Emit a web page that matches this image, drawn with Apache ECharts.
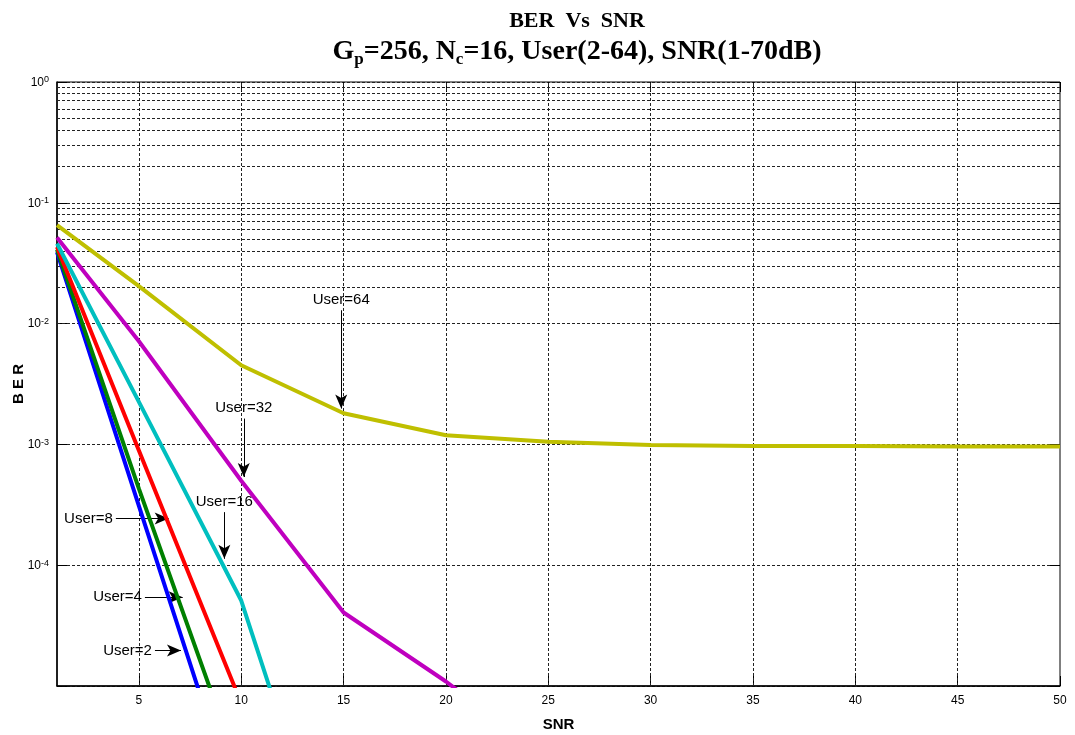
<!DOCTYPE html>
<html>
<head>
<meta charset="utf-8">
<script src="https://cdn.jsdelivr.net/npm/echarts@6/dist/echarts.min.js"></script>
<style>html,body{margin:0;padding:0;background:#fff;}#c{width:1075px;height:735px;}</style>
</head>
<body>
<div id="c"></div>
<script>
// ---- data ----
const snr = [1, 5, 10, 15, 20, 25, 30, 35, 40, 45, 50];
const ber_user2  = [0.039, 3.1e-4, 7.6e-7];
const ber_user4  = [0.041, 4.3e-4, 1.8e-6];
const ber_user8  = [0.043, 8.9e-4, 7.2e-6];
const ber_user16 = [0.046, 2.25e-3, 5.1e-5, 1.3e-7];
const ber_user32 = [0.0516, 7.15e-3, 5.0e-4, 4.06e-5, 1.09e-5, 2.5e-6];
const ber_user64 = [0.0653, 0.0204, 0.00452, 0.00181, 0.00119, 0.00105, 0.00099, 0.00097, 0.00097, 0.00096, 0.00096];
const xTicks = [5, 10, 15, 20, 25, 30, 35, 40, 45, 50];
const minorMult = [2, 3, 4, 5, 6, 7, 8, 9];
const decades = [-5, -4, -3, -2, -1];
// annotations: [label, x1, y1, x2, y2]
const notes = [
  ['User=64', 14.885, 0.0129, 14.885, 0.00198],
  ['User=32', 10.124, 0.001636, 10.124, 5.37e-4],
  ['User=16', 9.175, 2.75e-4, 9.175, 1.13e-4],
  ['User=8', 3.877, 2.43e-4, 6.455, 2.43e-4],
  ['User=4', 5.295, 5.44e-5, 7.140, 5.44e-5],
  ['User=2', 5.785, 1.97e-5, 7.057, 1.97e-5]
];

const SANS = '"Liberation Sans", Arial, Helvetica, sans-serif';
const SERIF = '"Liberation Serif", "Times New Roman", serif';
const pair = (ys) => ys.map((v, i) => [snr[i], v]);

const gridY = [];
decades.forEach(d => minorMult.forEach(m => gridY.push({yAxis: m * Math.pow(10, d)})));
const gridX = xTicks.slice(0, -1).map(v => ({xAxis: v}));

const dashStyle = {color: '#222', width: 1, type: [3, 2]};

function mk(name, ys, color) {
  return {
    name, type: 'line', data: pair(ys), showSymbol: false, symbol: 'none', z: 10,
    lineStyle: {color, width: 4}, itemStyle: {color}, clip: true, animation: false
  };
}

const chart = echarts.init(document.getElementById('c'), null, {renderer: 'canvas'});
chart.setOption({
  animation: false,
  backgroundColor: '#fff',
  title: {
    left: 572, top: 1, textAlign: 'center',
    text: '{a|BER  Vs  SNR}\n{c|G}{s|p}{c|=256, N}{s|c}{c|=16, User(2-64), SNR(1-70dB)}',
    textStyle: {
      rich: {
        a: {fontFamily: SERIF, fontWeight: 'bold', fontSize: 22, color: '#000', lineHeight: 30},
        c: {fontFamily: SERIF, fontWeight: 'bold', fontSize: 28, color: '#000', lineHeight: 32},
        s: {fontFamily: SERIF, fontWeight: 'bold', fontSize: 17, color: '#000', lineHeight: 17, padding: [10, 0, 0, 0], verticalAlign: 'bottom'}
      }
    }
  },
  grid: {left: 57, right: 15, top: 82, bottom: 49, show: true, borderColor: '#000', borderWidth: 1, backgroundColor: '#fff', outerBoundsMode: 'none', containLabel: false},
  xAxis: [{
    type: 'value', min: 1, max: 50, position: 'bottom',
    name: 'SNR', nameLocation: 'middle', nameGap: 31, nameMoveOverlap: false,
    nameTextStyle: {fontFamily: SANS, fontWeight: 'bold', fontSize: 15, color: '#000'},
    axisLine: {show: true, onZero: false, lineStyle: {color: '#000', width: 1.5}},
    axisTick: {show: true, inside: true, length: 10, customValues: xTicks, lineStyle: {color: '#000'}},
    axisLabel: {show: true, customValues: xTicks, margin: 9, fontFamily: SANS, fontSize: 12, color: '#000'},
    splitLine: {show: false}
  }, {
    type: 'value', min: 1, max: 50, position: 'top',
    axisLine: {show: false},
    axisTick: {show: true, inside: true, length: 10, customValues: xTicks, lineStyle: {color: '#000'}},
    axisLabel: {show: false}, splitLine: {show: false}
  }],
  yAxis: [{
    type: 'log', logBase: 10, min: 1e-5, max: 1, position: 'left',
    name: 'B E R', nameLocation: 'middle', nameGap: 31, nameRotate: 90, nameMoveOverlap: false,
    nameTextStyle: {fontFamily: SANS, fontWeight: 'bold', fontSize: 15, color: '#000'},
    axisLine: {show: true, onZero: false, lineStyle: {color: '#000', width: 1.5}},
    axisTick: {show: true, inside: true, length: 10, lineStyle: {color: '#000'}},
    minorTick: {show: false},
    axisLabel: {
      show: true, margin: 8, showMinLabel: true, showMaxLabel: true,
      formatter: function (v) {
        const e = Math.round(Math.log10(v));
        if (e === -5) return '';
        return '{b|10}{s|' + e + '}';
      },
      rich: {
        b: {fontFamily: SANS, fontSize: 12, color: '#000', lineHeight: 13, verticalAlign: 'bottom'},
        s: {fontFamily: SANS, fontSize: 9, color: '#000', lineHeight: 9, verticalAlign: 'top', padding: [0, 0, 7, 0]}
      }
    },
    splitLine: {show: true, lineStyle: dashStyle}
  }, {
    type: 'log', logBase: 10, min: 1e-5, max: 1, position: 'right',
    axisLine: {show: false},
    axisTick: {show: true, inside: true, length: 10, lineStyle: {color: '#000'}},
    axisLabel: {show: false}, splitLine: {show: false}
  }],
  series: [
    {
      name: 'grid', type: 'line', data: [], z: 1, silent: true,
      markLine: {
        silent: true, symbol: ['none', 'none'], label: {show: false}, animation: false,
        lineStyle: dashStyle, emphasis: {disabled: true},
        data: gridY.concat(gridX)
      }
    },
    mk('User=2', ber_user2, '#0000FF'),
    mk('User=4', ber_user4, '#008000'),
    mk('User=8', ber_user8, '#FF0000'),
    mk('User=16', ber_user16, '#00BFBF'),
    mk('User=32', ber_user32, '#BF00BF'),
    mk('User=64', ber_user64, '#BFBF00'),
    {
      name: 'notes', type: 'line', data: [], z: 20, silent: true,
      markLine: {
        silent: true, animation: false, symbol: ['none', 'arrow'], symbolSize: [9, 14],
        lineStyle: {color: '#000', width: 1, type: 'solid'},
        emphasis: {disabled: true},
        label: {show: true, position: 'start', distance: 3, color: '#000', fontFamily: SANS, fontSize: 15,
          formatter: p => p.name},
        data: notes.map(n => [{name: n[0], coord: [n[1], n[2]]}, {coord: [n[3], n[4]]}])
      }
    }
  ]
});
</script>
</body>
</html>
